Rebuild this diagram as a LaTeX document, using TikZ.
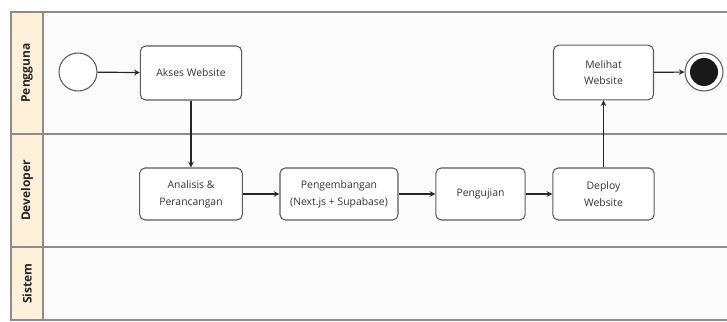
\documentclass[tikz,border=0pt]{standalone}
\usepackage{fontspec}
\setmainfont{Open Sans}
\usepackage{tikz}
\usetikzlibrary{positioning}
\definecolor{laneHead}{HTML}{FFF0D9}
\definecolor{laneLine}{HTML}{8C8C8C}
\definecolor{boxLine}{HTML}{5C5C5C}

\begin{document}
\begin{tikzpicture}[x=0.75pt, y=-0.75pt,
        activity/.style={draw=boxLine, line width=0.8pt, fill=white, rounded corners=4pt,
            align=center, inner sep=1pt, minimum height=39pt,
            font=\fontsize{7.8}{12.5}\selectfont, text=black!80},
        lanename/.style={rotate=90, font=\fontsize{9}{11}\selectfont\bfseries, text=black!85},
        flow/.style={-stealth, line width=0.9pt, black!85}]
            \useasboundingbox (0,0) rectangle (727,321);
            \fill[black!1] (11,12) rectangle (727,320);
            \fill[laneHead] (11,12) rectangle (43,320);
            \draw[laneLine, line width=0.9pt] (727,12) -- (11,12) -- (11,320) -- (727,320);
            \draw[laneLine, line width=0.9pt] (43,12) -- (43,320);
            \draw[laneLine, line width=0.9pt] (11,134) -- (727,134);
            \draw[laneLine, line width=0.9pt] (11,247) -- (727,247);
            \node[lanename] (pengguna) at (27,73) {Pengguna};
            \node[lanename] (developer) at (27,190.5) {Developer};
            \node[lanename] (sistem) at (27,283.5) {Sistem};
            % aktivitas
            \node[circle, draw=boxLine, line width=0.8pt, fill=white, minimum size=28.5pt] (start) at (78,72) {};
            \node[activity, minimum width=76pt, minimum height=40.5pt] (akses) at (191,73) {Akses Website};
            \node[activity, minimum width=77pt] (analisis) at (191,194) {Analisis \&\\Perancangan};
            \node[activity, minimum width=88.5pt] (pengembangan) at (339,194) {Pengembangan\\(Next.js + Supabase)};
            \node[activity, minimum width=67pt] (pengujian) at (480.5,194) {Pengujian};
            \node[activity, minimum width=76pt] (deploy) at (603.5,194) {Deploy\\Website};
            \node[activity, minimum width=75pt, minimum height=41pt] (melihat) at (603.5,72.5) {Melihat\\Website};
            \node[circle, draw=boxLine, line width=0.8pt, fill=white, minimum size=28.5pt] (end) at (704,72) {};
            \node[circle, fill=black!90, minimum size=21pt, inner sep=0pt] (endDot) at (end) {};
            %\node[activity] (proses) at (339,284) {};
            \draw[flow] (start) -- (akses);
            \draw[flow] (akses) -- (analisis);
            \draw[flow] (analisis) -- (pengembangan);
            \draw[flow] (pengembangan) -- (pengujian);
            \draw[flow] (pengujian) -- (deploy);
            \draw[flow] (deploy) -- (melihat);
            \draw[flow] (melihat) -- (end);
        \end{tikzpicture}
\end{document}
